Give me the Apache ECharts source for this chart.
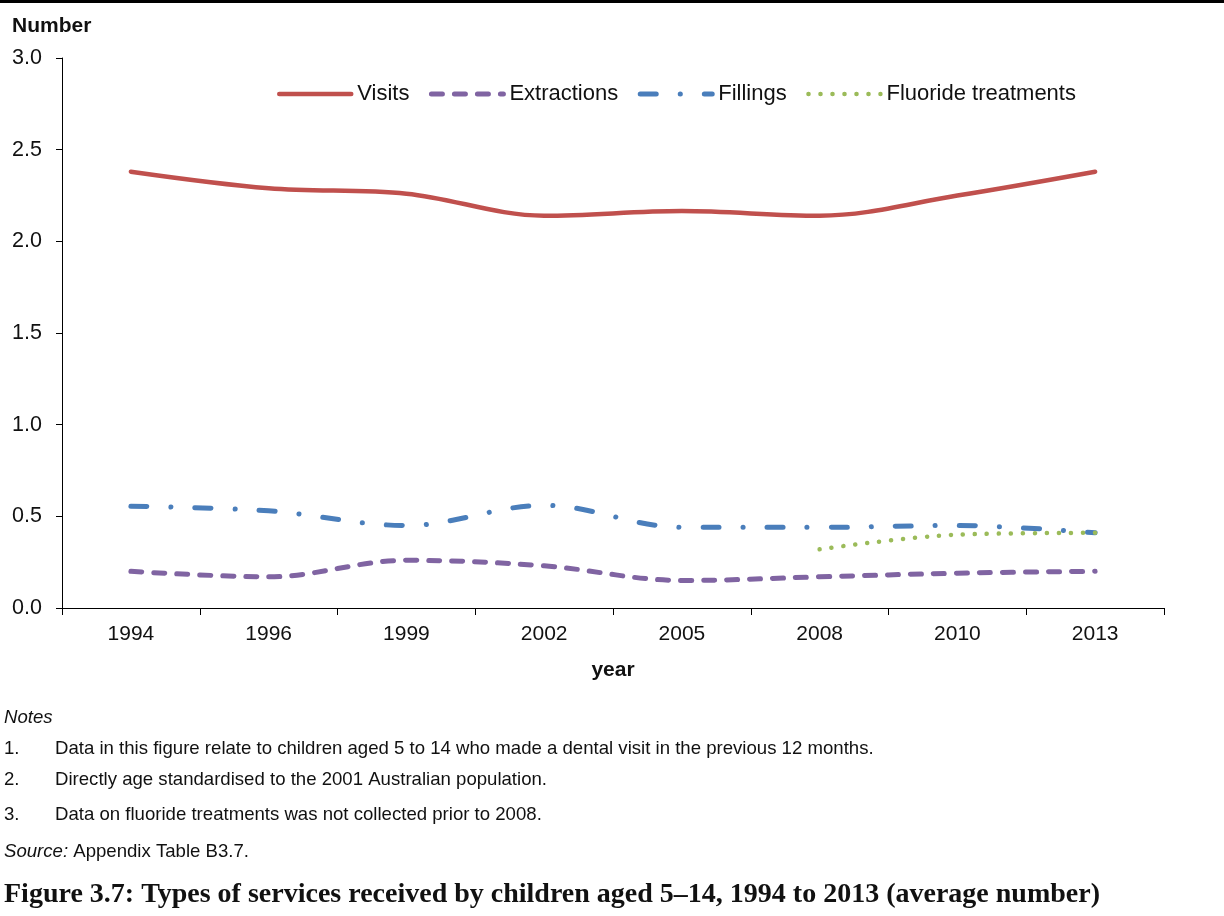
<!DOCTYPE html>
<html><head><meta charset="utf-8">
<script src="https://cdn.jsdelivr.net/npm/echarts@6/dist/echarts.min.js"></script>
<style>html,body{margin:0;padding:0;background:#fff}#c{width:1224px;height:916px}</style>
</head><body><div id="c"></div>
<script>
const years = ['1994','1996','1999','2002','2005','2008','2010','2013'];
const visits = [2.38, 2.29, 2.26, 2.14, 2.165, 2.14, 2.25, 2.38];
const extractions = [0.20, 0.17, 0.26, 0.23, 0.15, 0.17, 0.19, 0.20];
const fillings = [0.555, 0.53, 0.45, 0.56, 0.44, 0.44, 0.45, 0.41];
const fluoride = [null, null, null, null, null, 0.32, 0.40, 0.41];
const notes = [
  ['1.', 'Data in this figure relate to children aged 5 to 14 who made a dental visit in the previous 12 months.'],
  ['2.', 'Directly age standardised to the 2001 Australian population.'],
  ['3.', 'Data on fluoride treatments was not collected prior to 2008.']
];

const FONT = 'Liberation Sans, Arial, sans-serif';
const TXT = '#111';
const NF = '18.6px ';
const chart = echarts.init(document.getElementById('c'), null, {renderer: 'canvas'});
const noteY = [749, 780, 815];
const mid = (x, y, style) => ({type: 'text', x: x, y: y, style: Object.assign({verticalAlign: 'middle', fill: TXT}, style)});
const graphics = [
  {type: 'rect', x: 0, y: 0, shape: {x: 0, y: 0, width: 1224, height: 3}, style: {fill: '#000'}},
  mid(12, 26, {text: 'Number', font: 'bold 21px ' + FONT}),
  mid(4, 718, {text: 'Notes', font: 'italic ' + NF + FONT}),
  mid(4, 852, {rich: {i: {font: 'italic ' + NF + FONT, fill: TXT}, n: {font: NF + FONT, fill: TXT}}, text: '{i|Source:}{n| Appendix Table B3.7.}'}),
  mid(4, 895, {text: 'Figure 3.7: Types of services received by children aged 5\u201314, 1994 to 2013 (average number)', font: 'bold 28px Liberation Serif, DejaVu Serif, serif'})
];
notes.forEach((n, i) => {
  graphics.push(mid(4, noteY[i], {text: n[0], font: NF + FONT}));
  graphics.push(mid(55, noteY[i], {text: n[1], font: NF + FONT}));
});

const styles = {
  'Visits': {color: '#C0504D', width: 4.5, type: 'solid'},
  'Extractions': {color: '#8064A2', width: 5, type: [11, 12]},
  'Fillings': {color: '#4A7EBB', width: 5, type: [16, 24, 0.1, 24]},
  'Fluoride treatments': {color: '#9BBB59', width: 4.5, type: [0.1, 11.9]}
};
const mk = (name, data) => ({
  name: name, type: 'line', data: data, smooth: 0.35, symbol: 'none', showSymbol: false, connectNulls: false,
  itemStyle: {color: styles[name].color},
  lineStyle: {color: styles[name].color, width: styles[name].width, type: styles[name].type, cap: 'round'}
});

chart.setOption({
  animation: false,
  backgroundColor: '#fff',
  textStyle: {fontFamily: FONT},
  graphic: graphics,
  legend: {
    top: 78, left: 272,
    itemWidth: 72, itemHeight: 14, itemGap: 19.5,
    itemStyle: {opacity: 0},
    textStyle: {fontSize: 22, color: TXT, fontFamily: FONT, padding: [0, 0, 0, 1]},
    data: Object.keys(styles).map(k => ({
      name: k,
      itemStyle: {opacity: 0},
      lineStyle: {color: styles[k].color, width: styles[k].width, type: styles[k].type, cap: 'round', opacity: 1}
    }))
  },
  grid: {left: 62, right: 60, top: 58, bottom: 308, containLabel: false},
  xAxis: {
    type: 'category', data: years, boundaryGap: true,
    name: 'year', nameLocation: 'middle', nameGap: 52,
    nameTextStyle: {fontSize: 21, fontWeight: 'bold', color: TXT, fontFamily: FONT},
    axisLine: {lineStyle: {color: '#000', width: 1}},
    axisTick: {show: true, alignWithLabel: false, length: 7, lineStyle: {color: '#000'}},
    axisLabel: {fontSize: 21, color: TXT, margin: 16, fontFamily: FONT},
    splitLine: {show: false}
  },
  yAxis: {
    type: 'value', min: 0, max: 3, interval: 0.5,
    axisLine: {show: true, lineStyle: {color: '#000', width: 1}},
    axisTick: {show: true, length: 6, lineStyle: {color: '#000'}},
    axisLabel: {fontSize: 21.5, color: TXT, margin: 20, fontFamily: FONT, formatter: v => v.toFixed(1)},
    splitLine: {show: false}
  },
  series: [
    mk('Visits', visits),
    mk('Extractions', extractions),
    mk('Fillings', fillings),
    mk('Fluoride treatments', fluoride)
  ]
});
</script></body></html>
